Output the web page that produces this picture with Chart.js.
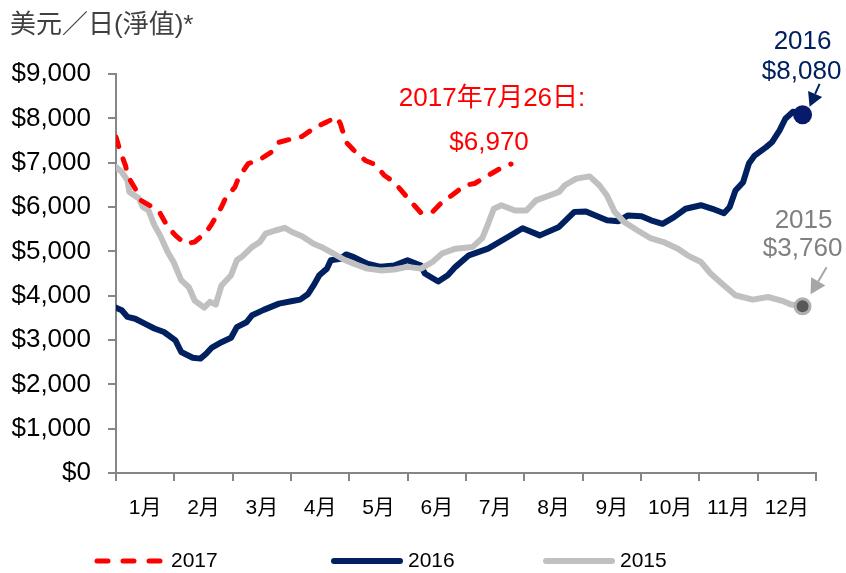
<!DOCTYPE html>
<html><head><meta charset="utf-8">
<script src="https://cdn.jsdelivr.net/npm/chart.js@4.4.1/dist/chart.umd.min.js"></script>
<style>html,body{margin:0;padding:0;background:#fff;}#wrap{width:846px;height:573px;position:relative;}</style>
</head><body><div id="wrap"><canvas id="c" width="846" height="573"></canvas></div>
<script>
const titleText = '美元／日(淨值)*';
const monthLabels = ['1月','2月','3月','4月','5月','6月','7月','8月','9月','10月','11月','12月'];
const seriesNames = ['2017','2016','2015'];
const note2017 = '2017年7月26日:';

const days2017 = [0,2,5,6,11,13,19,23,27,31,36,41,47,50,55,57,62,64,69,75,81,85,92,97,104,110,115,117,120,124,130,135,140,145,151,154,159,165,170,175,182,187,194,200,206];
const values2017 = [7580,7280,6930,6710,6340,6150,6000,5860,5550,5360,5170,5210,5430,5620,6000,6190,6450,6670,6980,7070,7240,7460,7540,7590,7800,7920,8030,7880,7460,7280,7050,6960,6710,6560,6260,6110,5870,5890,6110,6260,6490,6530,6710,6860,6970];

const days2016 = [0,3,6,10,15,20,25,31,34,40,44,47,50,55,60,63,68,71,77,85,92,96,100,103,106,110,112,117,120,124,131,138,145,152,159,161,168,173,177,184,194,205,212,221,231,239,245,256,262,267,274,279,285,291,297,305,311,317,320,323,327,330,333,339,342,346,349,353,358];
const values2016 = [3730,3670,3520,3480,3370,3260,3180,2990,2730,2600,2580,2690,2830,2950,3050,3290,3400,3560,3680,3820,3880,3910,4030,4230,4460,4610,4800,4830,4930,4870,4720,4650,4680,4800,4680,4500,4320,4460,4650,4910,5060,5340,5520,5360,5550,5890,5900,5700,5680,5810,5790,5700,5620,5770,5960,6040,5960,5860,6000,6370,6560,6980,7160,7350,7460,7730,7990,8150,8080];

const days2015 = [0,3,6,7,12,14,17,20,23,27,30,34,38,41,46,49,52,55,60,63,66,71,75,78,83,88,92,97,103,108,113,119,124,131,138,145,152,159,165,170,177,186,191,194,197,201,208,214,219,226,231,234,240,247,252,256,260,265,272,279,286,293,298,305,310,316,323,332,340,347,352,358];
const values2015 = [6900,6790,6600,6340,6190,6000,5920,5590,5360,4980,4760,4350,4190,3890,3730,3860,3800,4230,4460,4800,4890,5100,5210,5400,5470,5530,5430,5340,5170,5080,4960,4810,4720,4610,4570,4590,4650,4610,4760,4950,5060,5100,5300,5620,5960,6040,5920,5920,6150,6260,6340,6490,6640,6690,6490,6260,5890,5660,5470,5290,5200,5060,4910,4760,4500,4270,4010,3910,3970,3890,3800,3760];

const FONT = '"Liberation Sans", Arial, "Noto Sans CJK TC", sans-serif';
const RED = '#ff0000', NAVY = '#002060', GREY = '#c0c0c0';
const fmt = v => '$' + Math.round(v).toLocaleString('en-US');
const toXY = (d, v) => d.map((x, i) => ({x: x, y: v[i]}));
const lastIdx = arr => arr.length - 1;

const titlePlugin = {
  id: 'titlex',
  afterDraw(chart) {
    const ctx = chart.ctx; ctx.save();
    ctx.font = '26px ' + FONT; ctx.fillStyle = '#404040';
    ctx.textBaseline = 'middle'; ctx.textAlign = 'left';
    ctx.fillText(titleText, 10, 26);
    ctx.restore();
  }
};

function arrow(ctx, x1, y1, x2, y2, color, head) {
  const ang = Math.atan2(y2 - y1, x2 - x1);
  const bx = x2 - head * Math.cos(ang), by = y2 - head * Math.sin(ang);
  ctx.save();
  ctx.strokeStyle = color; ctx.fillStyle = color; ctx.lineWidth = 2;
  ctx.beginPath(); ctx.moveTo(x1, y1); ctx.lineTo(bx, by); ctx.stroke();
  ctx.beginPath(); ctx.moveTo(x2, y2);
  ctx.lineTo(bx + head * 0.55 * Math.sin(ang), by - head * 0.55 * Math.cos(ang));
  ctx.lineTo(bx - head * 0.55 * Math.sin(ang), by + head * 0.55 * Math.cos(ang));
  ctx.closePath(); ctx.fill();
  ctx.restore();
}

const notePlugin = {
  id: 'notes',
  afterDatasetsDraw(chart) {
    const ctx = chart.ctx;
    const p17 = chart.getDatasetMeta(0).data[lastIdx(days2017)];
    const p16 = chart.getDatasetMeta(1).data[lastIdx(days2016)];
    const p15 = chart.getDatasetMeta(2).data[lastIdx(days2015)];
    ctx.save();
    ctx.font = '26px ' + FONT; ctx.textAlign = 'center'; ctx.textBaseline = 'middle';
    ctx.fillStyle = RED;
    ctx.fillText(note2017, p17.x - 19, p17.y - 65);
    ctx.fillText(fmt(values2017[lastIdx(values2017)]), p17.x - 22, p17.y - 21);
    ctx.fillStyle = NAVY;
    ctx.fillText(seriesNames[1], p16.x, p16.y - 73);
    ctx.fillText(fmt(values2016[lastIdx(values2016)]), p16.x - 1, p16.y - 43);
    ctx.fillStyle = '#808080';
    ctx.fillText(seriesNames[2], p15.x + 1, p15.y - 85);
    ctx.fillText(fmt(values2015[lastIdx(values2015)]), p15.x, p15.y - 57);
    ctx.restore();
    arrow(ctx, p16.x + 17, p16.y - 31, p16.x + 7, p16.y - 8, NAVY, 14);
    arrow(ctx, p15.x + 24, p15.y - 39, p15.x + 8, p15.y - 12, '#a6a6a6', 15);
  }
};

const legendPlugin = {
  id: 'legendx',
  afterDraw(chart) {
    const ctx = chart.ctx; const y = 561;
    const items = [
      {x: 94, color: RED, dash: [11, 15], w: 5},
      {x: 331, color: NAVY, dash: [], w: 6},
      {x: 543, color: GREY, dash: [], w: 6}
    ];
    ctx.save();
    items.forEach((it, i) => {
      ctx.strokeStyle = it.color; ctx.lineWidth = it.w; ctx.lineCap = 'round';
      ctx.setLineDash(it.dash);
      ctx.beginPath(); ctx.moveTo(it.x + 3, y); ctx.lineTo(it.x + 69, y); ctx.stroke();
      ctx.setLineDash([]);
      ctx.font = '21px ' + FONT; ctx.fillStyle = '#000';
      ctx.textBaseline = 'middle'; ctx.textAlign = 'left';
      ctx.fillText(seriesNames[i], it.x + 77, y);
    });
    ctx.restore();
  }
};

const endOnly = (n, r) => ctx => (ctx.dataIndex === n ? r : 0);

new Chart(document.getElementById('c'), {
  type: 'line',
  data: {
    datasets: [
      {label: seriesNames[0], data: toXY(days2017, values2017), borderColor: RED, borderWidth: 5,
       borderDash: [10, 13], borderCapStyle: 'round', borderJoinStyle: 'round', pointRadius: 0, tension: 0, order: 0},
      {label: seriesNames[1], data: toXY(days2016, values2016), borderColor: NAVY, borderWidth: 6,
       borderJoinStyle: 'round', borderCapStyle: 'round', tension: 0, order: 2,
       pointRadius: endOnly(lastIdx(days2016), 9.5), pointBackgroundColor: '#0a1a6b', pointBorderColor: '#0a1a6b', pointBorderWidth: 0},
      {label: seriesNames[2], data: toXY(days2015, values2015), borderColor: GREY, borderWidth: 6,
       borderJoinStyle: 'round', borderCapStyle: 'round', tension: 0, order: 1,
       pointRadius: endOnly(lastIdx(days2015), 7.5), pointBackgroundColor: '#595959', pointBorderColor: '#b0b0b0', pointBorderWidth: 3}
    ]
  },
  options: {
    responsive: false, animation: false, devicePixelRatio: 1, events: [],
    layout: {padding: {top: 74, right: 30, bottom: 0, left: 0}},
    plugins: {legend: {display: false}, tooltip: {enabled: false}, title: {display: false}},
    scales: {
      x: {type: 'linear', min: 0, max: 365, display: false},
      xm: {type: 'category', labels: monthLabels, offset: true, position: 'bottom',
        grid: {offset: true, drawOnChartArea: false, tickLength: 8, color: '#868686', lineWidth: 2},
        border: {color: '#868686', width: 2},
        ticks: {color: '#000', font: {size: 21, family: FONT}, padding: 15, maxRotation: 0, autoSkip: false},
        afterFit: s => { s.height = 100; }},
      y: {min: 0, max: 9000,
        grid: {drawOnChartArea: false, tickLength: 8, color: '#868686', lineWidth: 2},
        border: {color: '#868686', width: 2},
        ticks: {stepSize: 1000, color: '#000', font: {size: 26, family: FONT}, padding: 17, callback: v => fmt(v)},
        afterFit: s => { s.width = 116; }}
    }
  },
  plugins: [titlePlugin, notePlugin, legendPlugin]
});
</script>
</body></html>
